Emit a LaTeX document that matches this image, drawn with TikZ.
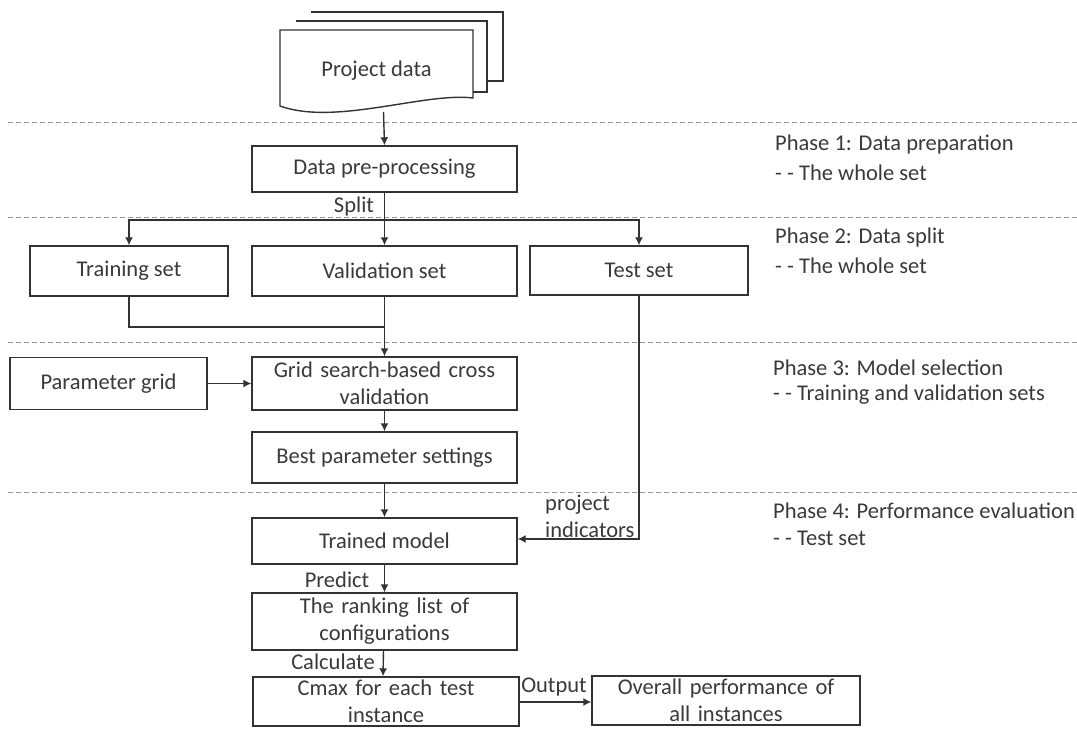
\documentclass[tikz,border=0pt]{standalone}
\usepackage{fontspec}
\setmainfont{Carlito}
\usetikzlibrary{arrows.meta}
\definecolor{ln}{HTML}{333333}
\definecolor{tx}{HTML}{3A3A3A}
\definecolor{dsh}{HTML}{9A9A9A}
\begin{document}
\begin{tikzpicture}[x=1pt,y=-1pt,
  every node/.style={font=\fontsize{22.5}{27}\selectfont, text=tx},
  box/.style={draw=ln, line width=1.4pt, fill=white, rectangle, inner sep=1pt, align=center},
  conn/.style={draw=ln, line width=1.4pt},
  arr/.style={conn, -{Latex[length=8pt,width=8pt]}},
  phase/.style={anchor=west, inner sep=0pt},
  lbl/.style={inner sep=0pt},
  sep/.style={draw=dsh, line width=1pt, dash pattern=on 5pt off 3pt}]
\useasboundingbox (0,0) rectangle (1077,738);
\fill[white] (0,0) rectangle (1077,738);
% dashed separators
\draw[sep] (8,123) -- (1077,123);
\draw[sep] (8,218) -- (1077,218);
\draw[sep] (8,342) -- (1077,342);
\draw[sep] (8,492) -- (1077,492);
% document stack
\draw[ln, line width=1.4pt, fill=white] (311,12) -- (503,12) -- (503,81) -- (487,81);
\draw[ln, line width=1.4pt, fill=white] (296,21) -- (487,21) -- (487,92) -- (473,92);
\draw[ln, line width=1.4pt, fill=white] (280,30) -- (473,30) -- (473,98) .. controls (425,92) and (335,126) .. (280,106) -- cycle;
\node[lbl] (doc) at (376.5,71) {Project data};
\coordinate (docb) at (383.5,112);
% boxes
\node[box, minimum width=265pt, minimum height=46pt] (pre) at (384.5,169) {Data pre-processing};
\node[box, minimum width=198pt, minimum height=50pt] (train) at (129,271) {Training set};
\node[box, minimum width=265pt, minimum height=50pt] (val) at (384.5,271) {Validation set};
\node[box, minimum width=218pt, minimum height=49pt] (test) at (639,270.5) {Test set};
\node[box, minimum width=197pt, minimum height=52pt] (pgrid) at (108.5,383.5) {Parameter grid};
\node[box, minimum width=265pt, minimum height=53pt, text width=258pt] (grid) at (384.5,383.5) {Grid search-based cross\\validation};
\node[box, minimum width=265pt, minimum height=51pt] (best) at (384.5,457.5) {Best parameter settings};
\node[box, minimum width=265pt, minimum height=46pt] (trained) at (384.5,541) {Trained model};
\node[box, minimum width=265pt, minimum height=57pt, text width=258pt] (rank) at (384.5,621.5) {The ranking list of\\configurations};
\node[box, minimum width=266pt, minimum height=49pt, text width=258pt] (cmax) at (386,701.5) {Cmax for each test\\instance};
\node[box, minimum width=268pt, minimum height=49pt, text width=258pt] (overall) at (726,700.5) {Overall performance of\\all instances};
% connectors
\draw[arr] (docb) -- (pre.north);
\coordinate (split) at (384.5,220);
\draw[conn] (pre.south) -- (split);
\draw[arr] (split) -- (val.north);
\draw[arr] (split) -| (train.north);
\draw[arr] (split) -| (test.north);
\node[lbl] (splitl) at (354,207) {Split};
\coordinate (merge) at (384.5,327);
\draw[conn] (train.south) |- (merge);
\draw[arr] (val.south) -- (grid.north);
\draw[arr] (pgrid.east) -- (grid.west);
\draw[arr] (grid.south) -- (best.north);
\draw[arr] (best.south) -- (trained.north);
\draw[arr] (test.south) |- ([yshift=2pt]trained.east);
\node[lbl, align=left, anchor=west] (pind) at (545,516.5) {project\\indicators};
\draw[arr] (trained.south) -- (rank.north);
\node[lbl] (pred) at (337,580) {Predict};
\draw[arr] ([xshift=-1pt]rank.south) -- ([xshift=-3pt]cmax.north);
\node[lbl] (calc) at (333,662) {Calculate};
\draw[arr] (cmax.east |- 0,702) -- (overall.west |- 0,702);
\node[lbl] (outl) at (554,687) {Output};
% phase texts
\node[phase] (p1) at (775,145) {Phase 1: Data preparation};
\node[phase] (p1b) at (775,173) {- - The whole set};
\node[phase] (p2) at (775,238) {Phase 2: Data split};
\node[phase] (p2b) at (775,266) {- - The whole set};
\node[phase] (p3) at (773,368) {Phase 3: Model selection};
\node[phase] (p3b) at (773,395) {- - Training and validation sets};
\node[phase] (p4) at (773,511) {Phase 4: Performance evaluation};
\node[phase] (p4b) at (773,538) {- - Test set};
\end{tikzpicture}
\end{document}
